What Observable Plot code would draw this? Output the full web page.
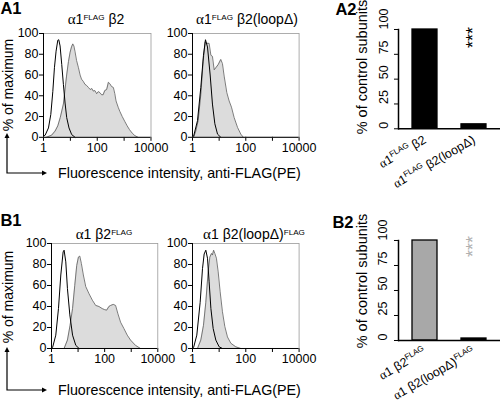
<!DOCTYPE html>
<html><head><meta charset="utf-8">
<script src="https://cdn.jsdelivr.net/npm/d3@7"></script>
<script src="https://cdn.jsdelivr.net/npm/@observablehq/plot@0.6"></script>
<style>
body{margin:0;background:#fff;}
#root{position:relative;width:500px;height:406px;font-family:"Liberation Sans",Arial,sans-serif;overflow:hidden;background:#fff;}
.lbl{position:absolute;white-space:nowrap;line-height:1;color:#000;}
.lbl sup{font-size:0.58em;vertical-align:0.55em;line-height:0;}
.lbl .gr{font-family:"Liberation Serif","DejaVu Serif",serif;font-size:1.08em;}
</style></head><body><div id="root"></div>
<script>
// ---------- data ----------
const panelLetters = ["A1", "A2", "B1", "B2"];
const histTitles = ["α1^FLAG β2", "α1^FLAG β2(loopΔ)", "α1 β2^FLAG", "α1 β2(loopΔ)^FLAG"];
const histYTitle = "% of maximum";
const histXTitle = "Fluorescence intensity, anti-FLAG(PE)";
const barYTitle = "% of control subunits";
const histXTicks = [1, 10, 100, 1000, 10000];
const histXTickLabels = ["1", "", "100", "", "10000"];
const histYTicks = [0, 20, 40, 60, 80, 100];
const barYTicks = [0, 25, 50, 75, 100];

// A1 left: α1FLAG β2
const a1LCtrlX = [1.0, 1.15, 1.53, 1.87, 2.22, 2.55, 2.94, 3.4, 3.7, 4.14, 4.78, 5.5, 6.35, 7.3, 8.9, 11.2, 14.9];
const a1LCtrlY = [1, 2, 9, 22, 44, 67, 83, 93.5, 94, 88, 70, 51, 33, 19, 9, 2.6, 0];
const a1LFillX = [1.26, 2.0, 2.7, 3.4, 4.2, 5.5, 7.2, 8.5, 9.8, 11, 12.3, 13.5, 14.8, 17, 20, 23, 26, 30, 35, 40, 47, 55, 63, 71, 82, 95, 110, 126, 145, 166, 190, 224, 260, 295, 339, 398, 450, 500, 600, 692, 850, 1047, 1300, 1585, 2000, 2512, 3311];
const a1LFillY = [0, 2, 6, 11, 19, 32, 59, 73, 82, 87, 90, 88, 83, 74, 67, 60, 56, 54, 51, 50, 48, 46, 47, 44.5, 45, 42, 44, 43, 41, 41, 45, 46, 53, 51.6, 49, 48, 42, 35, 29, 25, 20, 15.5, 11, 7.4, 4, 1.6, 0];
// A1 right: α1FLAG β2(loopΔ)
const a1RCtrlX = [1.0, 1.1, 1.54, 2.05, 2.58, 3.07, 3.65, 4.6, 5.6, 6.9, 8.7, 11.5];
const a1RCtrlY = [0, 1, 16, 48, 79, 94, 87, 60, 32, 13, 3, 0];
const a1RFillX = [1.1, 1.33, 1.63, 2.05, 2.51, 2.98, 3.45, 4.2, 4.9, 5.6, 6.5, 7.5, 9.2, 11.5, 13.3, 15.4, 19.4, 23.7, 29, 36.5, 49, 65, 81];
const a1RFillY = [0, 6, 16, 41, 73, 92, 90.5, 90.5, 79, 78, 65, 67, 70, 75, 71, 59, 43, 35, 29, 19, 9.5, 3, 0];
// B1 left: α1 β2FLAG
const b1LCtrlX = [1.0, 1.1, 1.45, 1.83, 2.24, 2.74, 2.98, 3.45, 3.98, 4.9, 6.2, 8.2, 10.9];
const b1LCtrlY = [0, 1, 12.7, 38, 70, 92, 93.6, 82.5, 57, 32, 12.7, 3, 0];
const b1LFillX = [2.98, 3.98, 5.0, 6.2, 7.5, 8.9, 10.3, 11.6, 13.3, 15.8, 19.4, 26, 34.5, 46, 61, 81, 100, 119, 145, 168, 211, 258, 316, 398, 531, 708, 944, 1445, 2239];
const b1LFillY = [0, 8, 22, 38, 60, 79, 87, 88, 81, 70, 59, 52, 46, 41, 40, 38, 37, 36.5, 40, 41, 42, 41, 33, 25, 19, 12.7, 8, 3, 0];
// B1 right: α1 β2(loopΔ)FLAG
const b1RCtrlX = [1.0, 1.1, 1.45, 1.94, 2.37, 2.74, 3.16, 3.65, 4.2, 4.9, 5.96, 7.5, 10, 13.3];
const b1RCtrlY = [0, 1, 12.7, 44, 76, 90, 93.6, 86, 63.5, 38, 19, 8, 1.6, 0];
const b1RFillX = [1.54, 2.05, 2.58, 3.16, 3.86, 4.47, 5.16, 5.6, 6.2, 6.9, 7.9, 9.2, 10.9, 13.3, 16.3, 20.5, 27.4, 42, 65];
const b1RFillY = [0, 8, 22, 44, 73, 87, 90.5, 89, 93.6, 90.5, 86, 73, 54, 35, 21, 11, 5, 1.6, 0];

// A2 / B2 bars
const a2Cats = ["α1^FLAG β2", "α1^FLAG β2(loopΔ)"];
const a2Vals = [100, 4.5];
const a2Fills = ["#000000", "#000000"];
const b2Cats = ["α1 β2^FLAG", "α1 β2(loopΔ)^FLAG"];
const b2Vals = [100, 2];
const b2Fills = ["#a8a8a8", "#000000"];
const sigLabel = "***";
const a2SigY = 92, b2SigY = 94;
const a2SigColor = "#000000", b2SigColor = "#b0b0b0";

// ---------- helpers ----------
const FONT = '"Liberation Sans", Arial, sans-serif';
const root = document.getElementById("root");

function toHTML(s) {
  return s.replace(/α/g, '<span class="gr">α</span>').replace(/\^([A-Za-z]+)/g, "<sup>$1</sup>");
}
function label(s, x, y, {size = 13, bold = false, rotate = 0, anchor = "middle"} = {}) {
  const d = document.createElement("div");
  d.className = "lbl";
  d.innerHTML = toHTML(s);
  d.style.left = x + "px";
  d.style.top = y + "px";
  d.style.fontSize = size + "px";
  if (bold) d.style.fontWeight = "bold";
  const tx = anchor === "start" ? "0" : "-50%";
  d.style.transform = `translate(${tx},-50%) rotate(${rotate}deg)`;
  root.appendChild(d);
}
const NS = "http://www.w3.org/2000/svg";
function supify(svg, fontSize) {
  svg.querySelectorAll("text").forEach(t => {
    const s = t.textContent;
    if (!s.includes("^") && !s.includes("α")) return;
    t.textContent = "";
    const parts = s.split(/(\^[A-Za-z]+|α)/);
    let shifted = false;
    for (const p of parts) {
      if (!p) continue;
      const ts = document.createElementNS(NS, "tspan");
      if (p[0] === "^") {
        ts.textContent = p.slice(1);
        ts.setAttribute("font-size", Math.round(fontSize * 0.6));
        ts.setAttribute("dy", -fontSize * 0.4);
        shifted = true;
      } else {
        ts.textContent = p;
        if (shifted) { ts.setAttribute("dy", fontSize * 0.4); shifted = false; }
        if (p === "α") ts.setAttribute("font-family", '"Liberation Serif", serif');
      }
      t.appendChild(ts);
    }
  });
}
function place(svg, left, top) {
  svg.style.position = "absolute";
  svg.style.left = left + "px";
  svg.style.top = top + "px";
  root.appendChild(svg);
}

function hist(cx, cy, fx, fy, left, top, plotW, plotH) {
  const ml = 40, mr = 20, mt = 6, mb = 22;
  const ctrl = cx.map((x, i) => ({x, y: cy[i]}));
  const sample = fx.map((x, i) => ({x, y: fy[i]}));
  const svg = Plot.plot({
    width: ml + plotW + mr, height: mt + plotH + mb,
    marginLeft: ml, marginRight: mr, marginTop: mt, marginBottom: mb,
    style: {background: "transparent", overflow: "visible", fontFamily: FONT, fontSize: "12.5px", color: "#000"},
    x: {type: "log", domain: [1, 10000], ticks: histXTicks,
        tickFormat: d => histXTickLabels[histXTicks.indexOf(d)] ?? "", tickSize: 4, tickPadding: 2, label: null},
    y: {domain: [0, 100], ticks: histYTicks, tickSize: 4, tickPadding: 1, label: null},
    marks: [
      Plot.areaY(sample, {x: "x", y: "y", fill: "#dcdcdc"}),
      Plot.lineY(sample, {x: "x", y: "y", stroke: "#5a5a5a", strokeWidth: 0.8}),
      Plot.lineY(ctrl, {x: "x", y: "y", stroke: "#000", strokeWidth: 1}),
      Plot.frame({stroke: "#999", strokeWidth: 0.8}),
      Plot.ruleX([1], {stroke: "#000", strokeWidth: 1}),
      Plot.ruleY([0], {stroke: "#000", strokeWidth: 1})
    ]
  });
  place(svg, left - ml, top - mt);
}

function bars(cats, vals, fills, sigColor, sigY, left, top, plotW, plotH) {
  const ml = 30, mr = 0, mt = 10, mb = 70;
  const data = cats.map((c, i) => ({c, v: vals[i], f: fills[i]}));
  const svg = Plot.plot({
    width: ml + plotW + mr, height: mt + plotH + mb,
    marginLeft: ml, marginRight: mr, marginTop: mt, marginBottom: mb,
    style: {background: "transparent", overflow: "visible", fontFamily: FONT, fontSize: "12.5px", color: "#000"},
    x: {domain: cats, paddingInner: 0.49, paddingOuter: 0.27, tickSize: 0, tickRotate: -30, tickPadding: 10, label: null},
    y: {domain: [0, 100], ticks: barYTicks, tickSize: 4, tickFormat: () => "", label: null},
    marks: [
      Plot.barY(data, {x: "c", y: "v", fill: d => d.f, stroke: "#000", strokeWidth: 1.3}),
      Plot.text(barYTicks, {y: d => d, frameAnchor: "left", dx: -15, rotate: -90, text: d => String(d), fontSize: 12.5, fill: "#000"}),
      Plot.text([{c: cats[1], v: sigY}], {x: "c", y: "v", text: () => sigLabel, rotate: -90, fill: sigColor, fontSize: 18, dx: -1}),
      Plot.ruleY([0], {stroke: "#000", strokeWidth: 1.5}),
      Plot.frame({anchor: "left", stroke: "#000", strokeWidth: 1.5})
    ]
  });
  supify(svg, 12.5);
  place(svg, left - ml, top - mt);
}

// ---------- histograms ----------
hist(a1LCtrlX, a1LCtrlY, a1LFillX, a1LFillY, 43.3, 32.5, 107.5, 103.8);
hist(a1RCtrlX, a1RCtrlY, a1RFillX, a1RFillY, 191.7, 32.5, 106.6, 103.8);
hist(b1LCtrlX, b1LCtrlY, b1LFillX, b1LFillY, 50.7, 243.3, 106.3, 105);
hist(b1RCtrlX, b1RCtrlY, b1RFillX, b1RFillY, 191.7, 243.3, 106.6, 105);

// ---------- bars ----------
bars(a2Cats, a2Vals, a2Fills, a2SigColor, a2SigY, 398.3, 29, 102.4, 99.3);
bars(b2Cats, b2Vals, b2Fills, b2SigColor, b2SigY, 398.3, 240, 102.4, 100);

// ---------- text ----------
label(panelLetters[0], 11, 8, {size: 16.5, bold: true});
label(panelLetters[1], 346, 9, {size: 16.5, bold: true});
label(panelLetters[2], 11, 220, {size: 16.5, bold: true});
label(panelLetters[3], 343, 222, {size: 16.5, bold: true});

label(histTitles[0], 96, 20, {size: 14});
label(histTitles[1], 247, 20, {size: 14});
label(histTitles[2], 104, 235, {size: 14});
label(histTitles[3], 254, 235, {size: 14});

label(histYTitle, 8, 85, {rotate: -90, size: 14});
label(histYTitle, 8, 297, {rotate: -90, size: 14});
label(barYTitle, 362, 67, {rotate: -90, size: 14.5});
label(barYTitle, 362, 281, {rotate: -90, size: 14.5});

label(histXTitle, 58, 173, {anchor: "start", size: 14.3});
label(histXTitle, 58, 390, {anchor: "start", size: 14.3});

// arrows (decoration)
const arr = document.createElementNS(NS, "svg");
arr.setAttribute("width", 60); arr.setAttribute("height", 406);
arr.style.position = "absolute"; arr.style.left = "0px"; arr.style.top = "0px";
arr.innerHTML = [[133, 173], [347, 390]].map(([t, b]) =>
  `<path d="M7,${t + 4}V${b}H43" fill="none" stroke="#000" stroke-width="1.2"/>` +
  `<path d="M7,${t}l-2.5,5h5z" fill="#000"/>` +
  `<path d="M47,${b}l-5,-2.5v5z" fill="#000"/>`).join("");
root.appendChild(arr);
</script></body></html>
